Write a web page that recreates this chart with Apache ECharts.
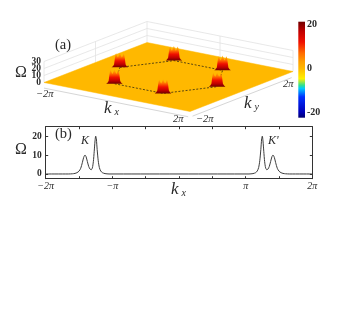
<!DOCTYPE html>
<html>
<head>
<meta charset="utf-8">
<title>Berry curvature</title>
<script src="https://cdn.jsdelivr.net/npm/echarts@6/dist/echarts.min.js"></script>
<style>
    html, body { margin: 0; padding: 0; background: #fff; }
    #main { width: 354px; height: 327px; filter: blur(0.45px); }
</style>
</head>
<body>
<div id="main"></div>
<script>
// panel (b): kx in units of pi, Omega
const lineKx = [-2, -1.66, -1.6, -1.56, -1.53, -1.5, -1.475, -1.45, -1.43, -1.41, -1.395, -1.375, -1.355, -1.335, -1.318, -1.3, -1.285, -1.272, -1.26, -1.25, -1.24, -1.228, -1.212, -1.195, -1.175, -1.15, -1.11, -1.05,
    1.05, 1.11, 1.15, 1.175, 1.195, 1.212, 1.228, 1.24, 1.25, 1.26, 1.272, 1.285, 1.3, 1.318, 1.335, 1.355, 1.375, 1.395, 1.41, 1.43, 1.45, 1.475, 1.5, 1.53, 1.56, 1.6, 1.66, 2];
const lineOmega = [0, 0, 0.1, 0.3, 0.7, 1.5, 3, 6, 8.8, 10, 9.2, 6.6, 4, 2.6, 2.2, 3.2, 6.5, 12, 17.5, 20, 18.5, 13, 7, 3.4, 1.6, 0.7, 0.2, 0,
    0, 0.2, 0.7, 1.6, 3.4, 7, 13, 18.5, 20, 17.5, 12, 6.5, 3.2, 2.2, 2.6, 4, 6.6, 9.2, 10, 8.8, 6, 3, 1.5, 0.7, 0.3, 0.1, 0, 0];
const xTickLabels = { '-2': '\u22122\u03c0', '-1': '\u2212\u03c0', '1': '\u03c0', '2': '2\u03c0' };
const yTicks = [0, 10, 20];

// panel (a): K points in units of pi, back to front
const peakKx = [-0.667, -1.333, 0.667, -0.667, 1.333, 0.667];
const peakKy = [1.155, 0, 1.155, -1.155, 0, -1.155];
const hexOrder = [1, 0, 2, 4, 5, 3, 1];
// one peak, offset across the view (units of pi) and height
const peakOffset = [-0.15, -0.125, -0.105, -0.098, -0.09, -0.08, -0.068, -0.05, -0.035, -0.015, 0, 0.015, 0.035, 0.05, 0.068, 0.08, 0.09, 0.098, 0.105, 0.125, 0.15];
const peakOmega = [0, 1.5, 4, 8, 13, 17.5, 20, 16, 14, 17.5, 21, 17.5, 14, 16, 20, 17.5, 13, 8, 4, 1.5, 0];
const zTicks = [0, 10, 20, 30];

// colour scale
const cmapValues = [-22.5, -20, -13, -9.2, -7.7, -4.7, 0, 3, 7, 12, 17, 21.3];
const cmapColors = ['#00006e', '#0000b8', '#0030ff', '#00c8ff', '#30e090', '#fff000', '#ffb800', '#ffa000', '#ff6a00', '#f01000', '#c00000', '#700000'];
const cbarRange = [-22.5, 21.3];
const cbarTicks = [-20, 0, 20];

const serif = '"Liberation Serif", serif';
const textColor = '#2a2a2a';

// flat view of the box, kx and ky in units of pi
function project(kx, ky, om) {
    const a = (kx + 2) / 4;
    const b = (ky + 2) / 4;
    return [44 + 146 * a + 103 * b, 82.5 + 29 * a - 40 * b - om * 0.7];
}

function toPoints(api, list) {
    return list.map(p => api.coord(project(p[0], p[1], p[2])));
}

function cmapGradient(x, y, x2, y2, lo, hi) {
    // colour stops between lo and hi, hi comes first
    let stops = [];
    cmapValues.forEach((v, i) => {
        if (v >= lo && v <= hi) {
            stops.push({ offset: (hi - v) / (hi - lo), color: cmapColors[i] });
        }
    });
    return new echarts.graphic.LinearGradient(x, y, x2, y2, stops.reverse());
}

function line(api, pts, color, width, dash) {
    return {
        type: 'polyline',
        shape: { points: toPoints(api, pts) },
        style: { stroke: color, lineWidth: width, fill: null, lineDash: dash || null }
    };
}

function renderBox(params, api) {
    const wall = '#e2e2e2';
    let children = [];
    zTicks.forEach(z => {
        if (z > 0) {
            children.push(line(api, [[-2, -2, z], [-2, 2, z], [2, 2, z]], wall, 0.8));
        }
    });
    [[-2, -2], [-2, 0], [-2, 2], [0, 2], [2, 2]].forEach(c => {
        children.push(line(api, [[c[0], c[1], 0], [c[0], c[1], 30]], wall, 0.8));
    });
    // axis lines under the plane
    children.push(line(api, [[-2, -2, -8], [1.95, -2, -8]], '#d6d6d6', 1));
    children.push(line(api, [[2, -1.9, -8], [2, 1.95, -8]], '#d6d6d6', 1));
    return { type: 'group', children: children };
}

function renderPlane(params, api) {
    return {
        type: 'polygon',
        shape: { points: toPoints(api, [[-2, -2, 0], [2, -2, 0], [2, 2, 0], [-2, 2, 0]]) },
        style: { fill: '#ffb800', stroke: '#ffb800', lineWidth: 0.5 }
    };
}

function renderHex(params, api) {
    return line(api, hexOrder.map(i => [peakKx[i], peakKy[i], 0]), '#4a3a10', 0.9, [2, 1.6]);
}

function renderPeak(params, api) {
    const i = params.dataIndex;
    const pts = peakOffset.map((s, j) => [peakKx[i] + s, peakKy[i] + s * 0.725, peakOmega[j]]);
    return {
        type: 'polygon',
        shape: { points: toPoints(api, pts) },
        style: { fill: cmapGradient(0, 1, 0, 0, 0, 21.3) }
    };
}

function renderZTick(params, api) {
    const z = zTicks[params.dataIndex];
    const p = api.coord(project(-2, -2, z));
    return {
        type: 'text',
        style: {
            x: p[0] - 3, y: p[1], text: String(z), align: 'right', verticalAlign: 'middle',
            font: 'bold 9.5px ' + serif, fill: textColor
        }
    };
}

function renderCbar(params, api) {
    const p1 = api.coord([0, cbarRange[1]]);
    const p2 = api.coord([1, cbarRange[0]]);
    return {
        type: 'rect',
        shape: { x: p1[0], y: p1[1], width: p2[0] - p1[0], height: p2[1] - p1[1] },
        style: { fill: cmapGradient(0, 0, 0, 1, cbarRange[0], cbarRange[1]) }
    };
}

function label(left, top, text, font, extra) {
    return {
        type: 'text', left: left, top: top, silent: true,
        style: Object.assign({ text: text, font: font, fill: textColor }, extra || {})
    };
}

const kRich = {
    k: { font: 'italic 17px ' + serif, fill: textColor, color: textColor },
    s: { font: 'italic 10px ' + serif, fill: textColor, color: textColor, padding: [8, 0, 0, 3] }
};

const myChart = echarts.init(document.getElementById('main'));
const axisDark = { show: true, onZero: false, lineStyle: { color: '#333', width: 1 } };
const tickIn = { show: true, inside: true, length: 2.5, lineStyle: { color: '#333', width: 1 } };

let option = {
    animation: false,
    backgroundColor: '#fff',
    grid: [
        { left: 0, top: 0, right: 0, bottom: 0 },
        { left: 45.7, top: 126.7, width: 266.6, height: 52 },
        { left: 298.3, top: 21.7, width: 6.7, height: 96 }
    ],
    xAxis: [
        { gridIndex: 0, type: 'value', min: 0, max: 354, show: false },
        {
            gridIndex: 1, type: 'value', min: -2, max: 2, interval: 0.5, position: 'bottom',
            axisLine: axisDark, axisTick: tickIn, splitLine: { show: false },
            axisLabel: {
                margin: 3, fontFamily: serif, fontStyle: 'italic', fontSize: 10, color: textColor,
                formatter: value => xTickLabels[String(value)] || ''
            }
        },
        {
            gridIndex: 1, type: 'value', min: -2, max: 2, interval: 0.5, position: 'top',
            axisLine: axisDark, axisTick: tickIn, axisLabel: { show: false }, splitLine: { show: false }
        },
        { gridIndex: 2, type: 'value', min: 0, max: 1, show: false }
    ],
    yAxis: [
        { gridIndex: 0, type: 'value', min: 0, max: 327, inverse: true, show: false },
        {
            gridIndex: 1, type: 'value', min: -2.5, max: 25, position: 'left',
            axisLine: axisDark, splitLine: { show: false },
            axisTick: Object.assign({ customValues: yTicks }, tickIn),
            axisLabel: {
                margin: 4, fontFamily: serif, fontWeight: 'bold', fontSize: 9.5, color: textColor,
                customValues: yTicks
            }
        },
        {
            gridIndex: 1, type: 'value', min: -2.5, max: 25, position: 'right',
            axisLine: axisDark, splitLine: { show: false },
            axisTick: Object.assign({ customValues: yTicks }, tickIn),
            axisLabel: { show: false }
        },
        {
            gridIndex: 2, type: 'value', min: cbarRange[0], max: cbarRange[1], position: 'right',
            axisLine: { show: false }, axisTick: { show: false }, splitLine: { show: false },
            axisLabel: {
                margin: 2, fontFamily: serif, fontWeight: 'bold', fontSize: 10, color: textColor,
                customValues: cbarTicks
            }
        }
    ],
    series: [
        { type: 'custom', xAxisIndex: 0, yAxisIndex: 0, clip: false, data: [0], renderItem: renderBox, silent: true, z: 1 },
        { type: 'custom', xAxisIndex: 0, yAxisIndex: 0, clip: false, data: [0], renderItem: renderPlane, silent: true, z: 2 },
        { type: 'custom', xAxisIndex: 0, yAxisIndex: 0, clip: false, data: [0], renderItem: renderHex, silent: true, z: 3 },
        { type: 'custom', xAxisIndex: 0, yAxisIndex: 0, clip: false, data: peakKx, renderItem: renderPeak, silent: true, z: 4 },
        { type: 'custom', xAxisIndex: 0, yAxisIndex: 0, clip: false, data: zTicks, renderItem: renderZTick, silent: true, z: 4 },
        {
            type: 'line', xAxisIndex: 1, yAxisIndex: 1, showSymbol: false, smooth: 0.25, z: 5,
            data: lineKx.map((x, i) => [x, lineOmega[i]]),
            lineStyle: { color: '#3c3c3c', width: 1 }
        },
        { type: 'custom', xAxisIndex: 3, yAxisIndex: 3, data: [cbarRange], renderItem: renderCbar, silent: true, z: 5 }
    ],
    graphic: [
        label(55, 38, '(a)', '14.5px ' + serif),
        label(55, 127, '(b)', '14.5px ' + serif),
        label(15, 65, '\u03a9', '16px ' + serif),
        label(15, 142, '\u03a9', '16px ' + serif),
        label(126, 53, 'K', 'italic 12px ' + serif),
        label(228, 75, "K'", 'italic 12px ' + serif),
        label(81, 135, 'K', 'italic 12px ' + serif),
        label(268, 135, "K'", 'italic 12px ' + serif),
        label(36, 89, '\u22122\u03c0', 'italic 10.5px ' + serif),
        label(173, 114, '2\u03c0', 'italic 10.5px ' + serif),
        label(196, 114, '\u22122\u03c0', 'italic 10.5px ' + serif),
        label(283, 79, '2\u03c0', 'italic 10.5px ' + serif),
        label(104, 100, '{k|k}{s|x}', 'italic 16px ' + serif, { rich: kRich }),
        label(244, 95, '{k|k}{s|y}', 'italic 16px ' + serif, { rich: kRich }),
        label(171, 181, '{k|k}{s|x}', 'italic 16px ' + serif, { rich: kRich })
    ]
};
option && myChart.setOption(option);
</script>
</body>
</html>
